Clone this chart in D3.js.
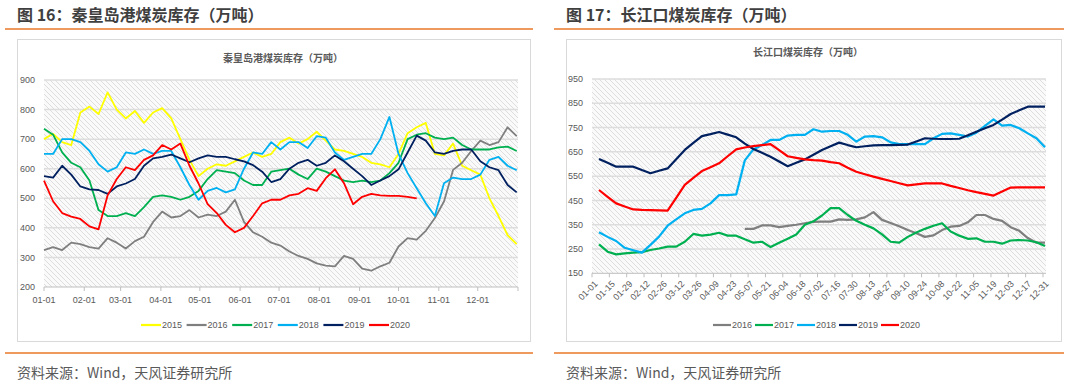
<!DOCTYPE html>
<html>
<head>
<meta charset="utf-8">
<title>煤炭库存</title>
<script src="https://cdn.jsdelivr.net/npm/d3@7/dist/d3.min.js"></script>
<style>
body { margin:0; background:#fff; }
text { font-family: "Noto Sans CJK SC", "Noto Sans", sans-serif; }
.num { font-family: "Liberation Sans Narrow", "Arial Narrow", "Liberation Sans", sans-serif; font-size: 9px; fill: #595959; }
</style>
</head>
<body>
<script>
// 秦皇岛港 (weekly readings, day of year)
var qhdDays = [0,7,14,21,28,35,42,49,56,63,70,77,84,91,98,105,112,119,126,133,140,147,154,161,168,175,182,189,196,203,210,217,224,231,238,245,252,259,266,273,280,287,294,301,308,315,322,329,336,343,350,357,364];
var qhdMonthDays = [0,31,59,90,120,151,181,212,243,273,304,334];
var qhdMonthLabels = ["01-01","02-01","03-01","04-01","05-01","06-01","07-01","08-01","09-01","10-01","11-01","12-01"];
var qhdYTicks = [200,300,400,500,600,700,800,900];
var qhdYears = ["2015","2016","2017","2018","2019","2020"];

var qhd2015 = [700,718,690,680,790,810,785,858,800,770,795,755,790,805,770,700,630,575,600,615,610,625,640,655,640,650,690,705,685,700,725,695,665,660,650,640,620,615,605,650,720,740,755,650,645,685,610,595,580,500,440,375,345];
var qhd2016 = [325,335,325,350,345,335,330,365,350,330,355,370,420,455,435,440,460,435,445,440,455,495,420,385,370,350,340,320,305,295,280,272,270,305,295,262,255,270,282,337,365,360,390,433,489,596,620,660,695,680,690,740,710];
var qhd2017 = [735,715,655,620,605,560,460,440,440,450,440,470,505,510,505,495,505,525,565,595,590,585,560,545,545,590,595,600,580,565,600,590,575,560,555,560,555,560,585,620,700,715,720,705,700,705,680,665,665,665,672,675,660];
var qhd2018 = [650,650,700,700,690,660,615,590,605,655,650,665,650,660,660,605,545,495,525,535,520,530,600,655,650,690,665,690,690,670,710,705,655,630,640,650,650,700,775,650,585,534,483,440,551,570,565,565,580,630,640,610,595];
var qhd2019 = [575,570,610,580,540,530,528,515,540,550,565,610,635,640,648,635,622,635,645,640,640,632,625,612,590,555,565,600,620,630,610,620,645,625,600,575,545,560,575,598,655,712,695,655,650,660,665,665,625,605,595,545,520];
var qhd2020 = [560,490,450,438,430,405,395,510,565,605,595,630,645,680,665,685,610,550,480,450,410,385,400,440,483,495,495,510,515,534,525,568,598,551,480,505,515,510,508,508,505,500];

// 长江口 (weekly readings)
var cjkTickLabels = ["01-01","01-15","01-29","02-12","02-26","03-12","03-26","04-09","04-23","05-07","05-21","06-04","06-18","07-02","07-16","07-30","08-13","08-27","09-10","09-24","10-08","10-22","11-05","11-19","12-03","12-17","12-31"];
var cjkYTicks = [150,250,350,450,550,650,750,850,950];
var cjkYears = ["2016","2017","2018","2019","2020"];

var cjk2016 = [null,null,null,null,null,null,null,null,null,null,null,null,null,null,null,null,null,333,333,347,347,340,345,350,356,362,363,363,372,370,372,380,402,370,357,344,328,315,300,306,328,342,345,360,390,390,374,366,340,325,295,276,276];
var cjk2017 = [269,239,228,232,235,237,246,252,260,260,280,312,305,309,317,305,305,290,276,280,258,276,292,310,350,364,388,418,418,390,366,350,335,310,280,276,300,318,333,346,356,322,305,292,294,280,280,272,285,287,285,278,262];
var cjk2018 = [319,300,283,255,245,235,267,301,346,372,397,411,415,438,472,472,475,615,660,678,699,699,717,720,720,743,733,736,736,720,692,713,715,710,689,682,682,682,682,706,724,726,720,713,729,757,784,758,761,747,726,706,669];
var cjk2019 = [621,605,589,589,589,575,562,572,582,620,658,687,715,723,732,721,710,684,662,646,630,610,591,605,619,638,658,673,688,678,669,673,677,678,678,679,680,693,706,704,703,703,704,718,733,747,761,783,806,821,836,836,836];
var cjk2020 = [493,465,438,425,413,411,410,409,408,461,514,543,571,587,603,632,660,668,674,678,682,657,632,625,619,616,614,608,603,585,568,558,548,539,530,521,512,516,520,520,520,510,501,492,484,477,470,487,503,504,504,504,504];

var colors = {"2015":"#FFFF00","2016":"#7F7F7F","2017":"#00B050","2018":"#00B0F0","2019":"#002060","2020":"#FF0000"};
var orange = "#EE9A5F";

var qhdSeries = [qhd2015,qhd2016,qhd2017,qhd2018,qhd2019,qhd2020];
var cjkSeries = [cjk2016,cjk2017,cjk2018,cjk2019,cjk2020];

var svg = d3.select("body").append("svg").attr("width",1080).attr("height",389);

var defs = svg.append("defs");
var pat = defs.append("pattern").attr("id","hatch").attr("width",5).attr("height",5).attr("patternUnits","userSpaceOnUse");
pat.append("rect").attr("width",5).attr("height",5).attr("fill","#fafafa");
pat.append("path").attr("d","M0,0L5,5M-1,4L1,6M4,-1L6,1").attr("stroke","#d6d6d6").attr("stroke-width",0.8);

function panelFrame(x0, x1, boxX, boxW, header) {
  svg.append("text").text(header).attr("x",boxX).attr("y",21).attr("font-size",16).attr("font-weight","bold").attr("fill","#3f3f3f");
  svg.append("line").attr("x1",x0).attr("x2",x1).attr("y1",29).attr("y2",29).attr("stroke",orange).attr("stroke-width",2);
  svg.append("rect").attr("x",boxX+0.5).attr("y",39.5).attr("width",boxW).attr("height",302).attr("fill","none").attr("stroke","#d9d9d9");
  svg.append("line").attr("x1",x0).attr("x2",x1).attr("y1",353).attr("y2",353).attr("stroke",orange).attr("stroke-width",2);
  svg.append("text").text("资料来源：Wind，天风证券研究所").attr("x",boxX).attr("y",378).attr("font-size",14).attr("fill","#595959");
}

panelFrame(5, 533, 17, 513, "图 16：秦皇岛港煤炭库存（万吨）");
panelFrame(554, 1064, 566, 495, "图 17：长江口煤炭库存（万吨）");

// ---------- left chart ----------
var xQ = d3.scaleLinear().domain([0,365]).range([44,518]);
var yQ = d3.scaleLinear().domain([200,900]).range([287,80]);

svg.append("text").text("秦皇岛港煤炭库存（万吨）").attr("x",283).attr("y",62).attr("text-anchor","middle")
  .attr("font-size",10).attr("font-weight","bold").attr("fill","#595959");

svg.append("rect").attr("x",xQ(0)).attr("y",yQ(900)).attr("width",xQ(365)-xQ(0)).attr("height",yQ(200)-yQ(900)).attr("fill","url(#hatch)");

svg.selectAll(".qgrid").data(qhdYTicks.slice(1)).enter().append("line").attr("class","qgrid")
  .attr("x1",xQ(0)).attr("x2",xQ(365)).attr("y1",function(d){ return yQ(d);}).attr("y2",function(d){ return yQ(d);})
  .attr("stroke","#dddddd").attr("stroke-width",1.5);

svg.selectAll(".qy").data(qhdYTicks).enter().append("text").attr("class","num")
  .attr("x",35).attr("y",function(d){ return yQ(d);}).attr("dy","0.35em").attr("text-anchor","end").text(function(d){ return d;});

svg.append("line").attr("x1",xQ(0)).attr("x2",xQ(365)).attr("y1",yQ(200)).attr("y2",yQ(200)).attr("stroke","#bfbfbf");
svg.selectAll(".qtick").data(qhdMonthDays.concat([365])).enter().append("line").attr("class","qtick")
  .attr("x1",function(d){ return xQ(d);}).attr("x2",function(d){ return xQ(d);}).attr("y1",yQ(200)).attr("y2",yQ(200)+4).attr("stroke","#bfbfbf");
svg.selectAll(".qx").data(qhdMonthDays).enter().append("text").attr("class","num")
  .attr("x",function(d){ return xQ(d);}).attr("y",303).attr("text-anchor","middle").text(function(d,i){ return qhdMonthLabels[i];});

var qLine = d3.line().x(function(d,i){ return xQ(qhdDays[i]);}).y(function(d){ return yQ(d);});
qhdSeries.forEach(function(s,k){
  svg.append("path").attr("d",qLine(s)).attr("fill","none").attr("stroke",colors[qhdYears[k]])
    .attr("stroke-width",1.8).attr("stroke-linejoin","round");
});

var qLeg = svg.selectAll(".qleg").data(qhdYears).enter().append("g").attr("class","qleg")
  .attr("transform",function(d,i){ return "translate(" + (141 + i*45.6) + ",325)";});
qLeg.append("line").attr("x1",0).attr("x2",20).attr("stroke",function(d){ return colors[d];}).attr("stroke-width",2.2);
qLeg.append("text").attr("class","num").attr("x",21).attr("dy","0.35em").text(function(d){ return d;});

// ---------- right chart ----------
var xT = d3.scalePoint().domain(cjkTickLabels).range([592,1043]);
var xC = d3.scaleLinear().domain([0,52]).range([599,1045]);
var yC = d3.scaleLinear().domain([150,950]).range([273.3,79]);

svg.append("text").text("长江口煤炭库存（万吨）").attr("x",808).attr("y",56).attr("text-anchor","middle")
  .attr("font-size",10).attr("font-weight","bold").attr("fill","#595959");

svg.append("rect").attr("x",592).attr("y",yC(950)).attr("width",1046-592).attr("height",yC(150)-yC(950)).attr("fill","url(#hatch)");

svg.selectAll(".cgrid").data(cjkYTicks.slice(1)).enter().append("line").attr("class","cgrid")
  .attr("x1",592).attr("x2",1046).attr("y1",function(d){ return yC(d);}).attr("y2",function(d){ return yC(d);})
  .attr("stroke","#dddddd").attr("stroke-width",1.5);

svg.selectAll(".cy").data(cjkYTicks).enter().append("text").attr("class","num")
  .attr("x",583).attr("y",function(d){ return yC(d);}).attr("dy","0.35em").attr("text-anchor","end").text(function(d){ return d;});

svg.append("line").attr("x1",592).attr("x2",1046).attr("y1",yC(150)).attr("y2",yC(150)).attr("stroke","#bfbfbf");
svg.selectAll(".ctick").data(cjkTickLabels).enter().append("line").attr("class","ctick")
  .attr("x1",function(d){ return xT(d);}).attr("x2",function(d){ return xT(d);}).attr("y1",yC(150)).attr("y2",yC(150)+4).attr("stroke","#bfbfbf");
svg.selectAll(".cx").data(cjkTickLabels).enter().append("text").attr("class","num")
  .attr("transform",function(d){ return "translate(" + (xT(d)+4) + "," + (yC(150)+9) + ") rotate(-45)";})
  .attr("text-anchor","end").attr("dy","0.35em").text(function(d){ return d;});

var cLine = d3.line().defined(function(d){ return d != null;}).x(function(d,i){ return xC(i);}).y(function(d){ return yC(d);});
cjkSeries.forEach(function(s,k){
  svg.append("path").attr("d",cLine(s)).attr("fill","none").attr("stroke",colors[cjkYears[k]])
    .attr("stroke-width",2.2).attr("stroke-linejoin","round");
});

var cLeg = svg.selectAll(".cleg").data(cjkYears).enter().append("g").attr("class","cleg")
  .attr("transform",function(d,i){ return "translate(" + (713 + i*42) + ",325)";});
cLeg.append("line").attr("x1",0).attr("x2",18).attr("stroke",function(d){ return colors[d];}).attr("stroke-width",2.2);
cLeg.append("text").attr("class","num").attr("x",19).attr("dy","0.35em").text(function(d){ return d;});
</script>
</body>
</html>
